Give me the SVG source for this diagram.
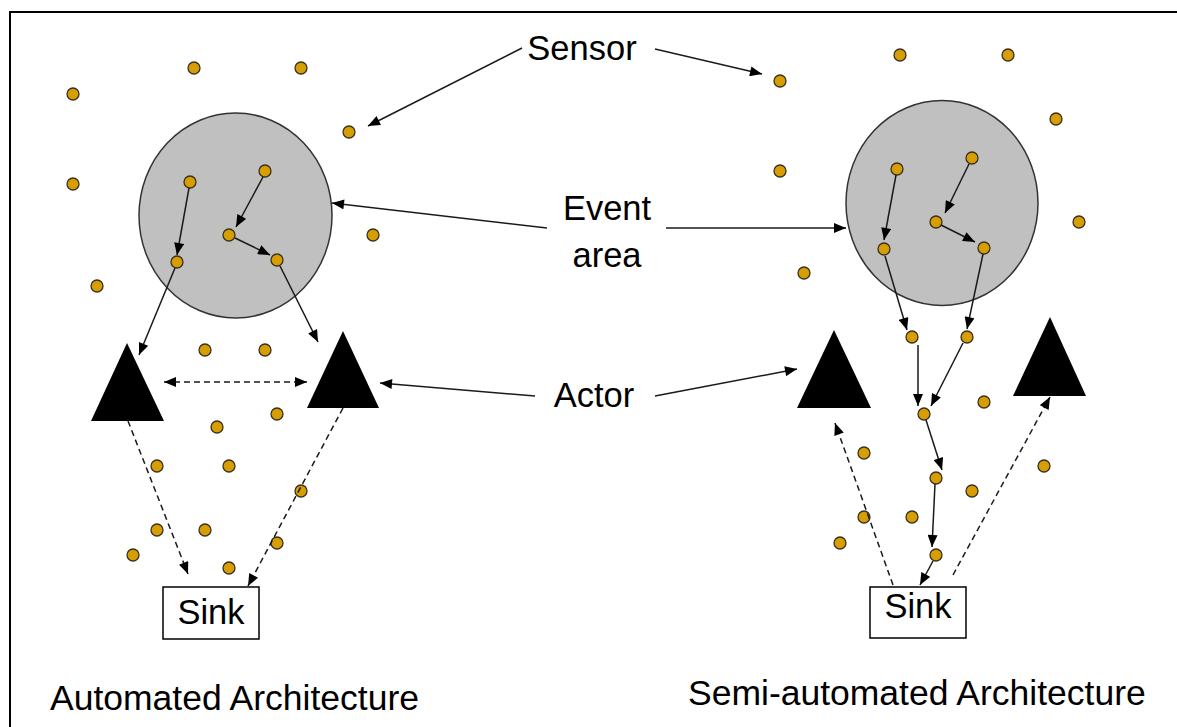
<svg xmlns="http://www.w3.org/2000/svg" width="1177" height="727" viewBox="0 0 1177 727">
<defs>
<marker id="ah" viewBox="0 0 12 10" refX="12" refY="5" markerWidth="13" markerHeight="10" orient="auto-start-reverse" markerUnits="userSpaceOnUse">
<path d="M0,0 L12,5 L0,10 z" fill="#000"/>
</marker>
<style>
.lbl{font-family:"Liberation Sans",Arial,sans-serif;font-size:34.5px;fill:#000}
.big{font-size:35.5px}
.dot{fill:#D69E00;stroke:#3a3020;stroke-width:1.3}
.area{fill:#C0C0C0;stroke:#333;stroke-width:1.5}
.actor{fill:#000}
.sink{fill:#fff;stroke:#000;stroke-width:1.5}
.c{stroke:#1a1a1a;stroke-width:1.5;fill:none;marker-end:url(#ah)}
.d{stroke:#1a1a1a;stroke-width:1.5;fill:none;stroke-dasharray:6,4;marker-end:url(#ah)}
</style>
</defs>
<rect x="10" y="12" width="1200" height="800" fill="#fff" stroke="#000" stroke-width="2"/>

<g id="event-area-left"><ellipse class="area" cx="235.5" cy="215.5" rx="96.5" ry="102.5"/></g>
<g id="event-area-right"><ellipse class="area" cx="942" cy="203" rx="96" ry="102.5"/></g>

<g id="actor-left-1"><polygon class="actor" points="127,343 164,421 91,421"/></g>
<g id="actor-left-2"><polygon class="actor" points="343,331 379,408 307,408"/></g>
<g id="actor-right-1"><polygon class="actor" points="834,330 871,408 797,408"/></g>
<g id="actor-right-2"><polygon class="actor" points="1050,317 1086,396 1013,396"/></g>

<g id="sink-left"><rect class="sink" x="163" y="587" width="96" height="52"/><text class="lbl" x="211" y="624" text-anchor="middle">Sink</text></g>
<g id="sink-right"><rect class="sink" x="870" y="587" width="96" height="51"/><text class="lbl" x="918" y="618" text-anchor="middle">Sink</text></g>

<g id="sensors">
<circle class="dot" cx="73" cy="94" r="6"/><circle class="dot" cx="194" cy="68" r="6"/><circle class="dot" cx="301" cy="68" r="6"/>
<circle class="dot" cx="349" cy="132" r="6"/><circle class="dot" cx="73" cy="184" r="6"/><circle class="dot" cx="97" cy="286" r="6"/>
<circle class="dot" cx="373" cy="235" r="6"/>
<circle class="dot" cx="190" cy="182" r="6"/><circle class="dot" cx="265" cy="171" r="6"/><circle class="dot" cx="229" cy="235" r="6"/>
<circle class="dot" cx="177" cy="262" r="6"/><circle class="dot" cx="277" cy="260" r="6"/>
<circle class="dot" cx="205" cy="350" r="6"/><circle class="dot" cx="265" cy="350" r="6"/>
<circle class="dot" cx="277" cy="414" r="6"/><circle class="dot" cx="217" cy="427" r="6"/>
<circle class="dot" cx="157" cy="466" r="6"/><circle class="dot" cx="229" cy="466" r="6"/><circle class="dot" cx="301" cy="491" r="6"/>
<circle class="dot" cx="157" cy="530" r="6"/><circle class="dot" cx="205" cy="530" r="6"/><circle class="dot" cx="277" cy="543" r="6"/>
<circle class="dot" cx="133" cy="555" r="6"/><circle class="dot" cx="229" cy="568" r="6"/>

<circle class="dot" cx="780" cy="81" r="6"/><circle class="dot" cx="900" cy="55" r="6"/><circle class="dot" cx="1008" cy="55" r="6"/>
<circle class="dot" cx="1056" cy="119" r="6"/><circle class="dot" cx="780" cy="171" r="6"/><circle class="dot" cx="1079" cy="222" r="6"/>
<circle class="dot" cx="804" cy="273" r="6"/>
<circle class="dot" cx="897" cy="169" r="6"/><circle class="dot" cx="972" cy="158" r="6"/><circle class="dot" cx="936" cy="222" r="6"/>
<circle class="dot" cx="884" cy="249" r="6"/><circle class="dot" cx="984" cy="248" r="6"/>
<circle class="dot" cx="912" cy="337" r="6"/><circle class="dot" cx="967" cy="337" r="6"/>
<circle class="dot" cx="924" cy="414" r="6"/><circle class="dot" cx="984" cy="402" r="6"/>
<circle class="dot" cx="864" cy="453" r="6"/><circle class="dot" cx="936" cy="478" r="6"/><circle class="dot" cx="1044" cy="466" r="6"/>
<circle class="dot" cx="972" cy="491" r="6"/><circle class="dot" cx="864" cy="517" r="6"/><circle class="dot" cx="912" cy="517" r="6"/>
<circle class="dot" cx="840" cy="543" r="6"/><circle class="dot" cx="936" cy="555" r="6"/>
</g>

<g id="connectors">
<line class="c" x1="189" y1="188" x2="177" y2="255"/>
<line class="c" x1="263" y1="177" x2="236" y2="227"/>
<line class="c" x1="235" y1="238" x2="270" y2="255"/>
<line class="c" x1="175" y1="268" x2="139" y2="355"/>
<line class="c" x1="280" y1="266" x2="318" y2="342"/>
<line class="d" x1="164" y1="382" x2="307" y2="382" style="marker-start:url(#ah)"/>
<line class="d" x1="128" y1="421" x2="188" y2="574"/>
<line class="d" x1="343" y1="408" x2="248" y2="586"/>

<line class="c" x1="522" y1="48" x2="368" y2="126"/>
<line class="c" x1="655" y1="49" x2="762" y2="74"/>
<line class="c" x1="547" y1="228" x2="332" y2="203"/>
<line class="c" x1="666" y1="228" x2="846" y2="228"/>
<line class="c" x1="535" y1="396" x2="380" y2="383"/>
<line class="c" x1="655" y1="396" x2="797" y2="369"/>

<line class="c" x1="896" y1="175" x2="884" y2="240"/>
<line class="c" x1="969" y1="164" x2="945" y2="213"/>
<line class="c" x1="941" y1="225" x2="975" y2="242"/>
<line class="c" x1="885" y1="256" x2="907" y2="330"/>
<line class="c" x1="983" y1="254" x2="967" y2="329"/>
<line class="c" x1="918" y1="345" x2="918" y2="406"/>
<line class="c" x1="963" y1="343" x2="931" y2="406"/>
<line class="c" x1="926" y1="420" x2="942" y2="470"/>
<line class="c" x1="935" y1="484" x2="932" y2="547"/>
<line class="c" x1="933" y1="561" x2="920" y2="585"/>
<line class="d" x1="893" y1="585" x2="835" y2="423"/>
<line class="d" x1="953" y1="575" x2="1050" y2="397"/>
</g>

<g id="labels">
<text class="lbl" x="582" y="60" text-anchor="middle">Sensor</text>
<text class="lbl" x="607" y="220" text-anchor="middle">Event</text>
<text class="lbl" x="607" y="267" text-anchor="middle">area</text>
<text class="lbl" x="594" y="407" text-anchor="middle">Actor</text>
<text class="lbl big" x="50" y="710">Automated Architecture</text>
<text class="lbl big" x="688" y="705">Semi-automated Architecture</text>
</g>
</svg>
